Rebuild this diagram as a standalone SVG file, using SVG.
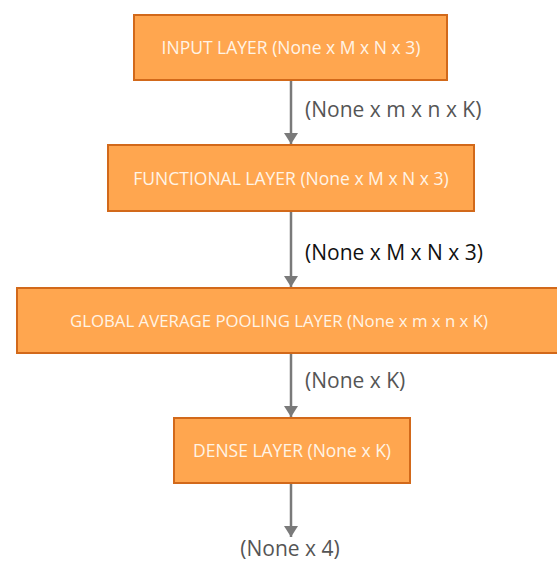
<svg xmlns="http://www.w3.org/2000/svg" width="557" height="563" viewBox="0 0 557 563">
<defs>
<marker id="ah" markerWidth="14" markerHeight="14" refX="11" refY="7" orient="auto" markerUnits="userSpaceOnUse">
<path d="M0,0 L11,7 L0,14 Z" fill="#7a7a7a"/>
</marker>
<style>
.box{fill:#FFA64F;stroke:#D2691A;stroke-width:2}
.bt{font-family:"Open Sans","Noto Sans",sans-serif;font-size:17.5px;fill:#FFF4E6;text-anchor:middle}
.lbl{font-family:"Open Sans","Noto Sans",sans-serif;font-size:21px;fill:#555555}
.conn{stroke:#7a7a7a;stroke-width:2.5;fill:none}
</style>
</defs>
<rect width="557" height="563" fill="#ffffff"/>
<g id="connectors">
<line class="conn" x1="291" y1="81" x2="291" y2="144" marker-end="url(#ah)"/>
<line class="conn" x1="291" y1="212" x2="291" y2="287" marker-end="url(#ah)"/>
<line class="conn" x1="291" y1="354" x2="291" y2="417" marker-end="url(#ah)"/>
<line class="conn" x1="291" y1="484" x2="291" y2="537" marker-end="url(#ah)"/>
<text class="lbl" x="305" y="117">(None x m x n x K)</text>
<text class="lbl" x="305" y="260" style="fill:#111111">(None x M x N x 3)</text>
<text class="lbl" x="305" y="388">(None x K)</text>
<text class="lbl" x="290" y="556" text-anchor="middle">(None x 4)</text>
</g>
<g id="input">
<rect class="box" x="134" y="15" width="313" height="65"/>
<text class="bt" x="291" y="54">INPUT LAYER (None x M x N x 3)</text>
</g>
<g id="functional">
<rect class="box" x="108" y="145" width="366" height="66"/>
<text class="bt" x="291" y="185">FUNCTIONAL LAYER (None x M x N x 3)</text>
</g>
<g id="gap">
<rect class="box" x="17" y="288" width="550" height="65"/>
<text class="bt" x="279" y="327" style="font-size:16.8px">GLOBAL AVERAGE POOLING LAYER (None x m x n x K)</text>
</g>
<g id="dense">
<rect class="box" x="174" y="418" width="236" height="65"/>
<text class="bt" x="292" y="457">DENSE LAYER (None x K)</text>
</g>
</svg>
